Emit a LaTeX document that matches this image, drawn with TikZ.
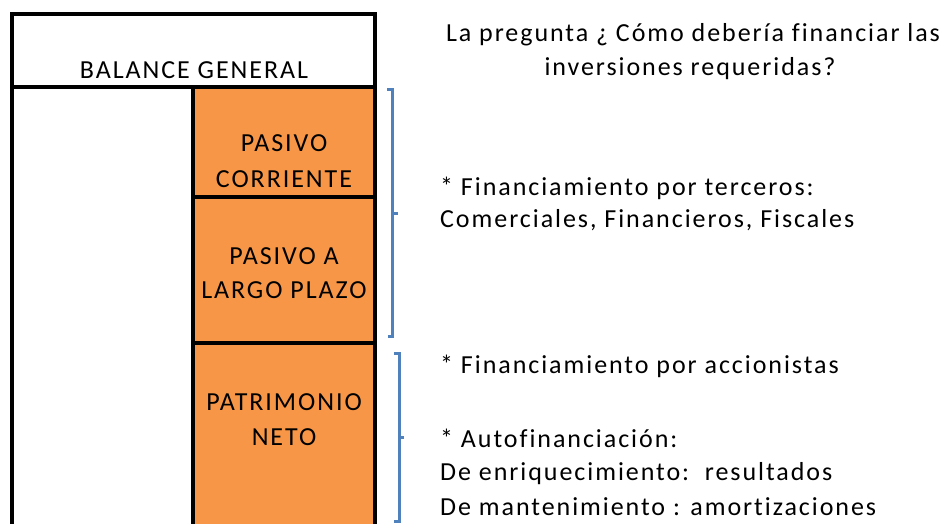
\documentclass[tikz,border=0pt]{standalone}
\usepackage{fontspec}
\setmainfont{Carlito}[LetterSpace=7.5,Ligatures=NoCommon]
\definecolor{boxorange}{HTML}{F79646}
\definecolor{bracketblue}{HTML}{4F81BD}
\begin{document}
\begin{tikzpicture}[x=1pt,y=-1pt,
  txt/.style={inner sep=0pt,font=\fontsize{26}{34}\selectfont},
  frame/.style={draw=black,line width=4pt},
  orangebox/.style={frame,fill=boxorange},
  brace/.style={draw=bracketblue,line width=3pt}]
\useasboundingbox (0,0) rectangle (944,523);
% frame
\draw[frame] (12,14) rectangle (375,87);
\draw[frame] (12,87) -- (12,540);
\draw[orangebox] (193,87) rectangle (375,197);
\draw[orangebox] (193,197) rectangle (375,343);
\draw[orangebox] (193,343) rectangle (375,540);
% box texts
\node[txt,anchor=base] (bal) at (194,78) {BALANCE GENERAL};
\node[txt,anchor=base] (pc1) at (284,151) {PASIVO};
\node[txt,anchor=base] (pc2) at (284,187) {CORRIENTE};
\node[txt,anchor=base] (pl1) at (284,264) {PASIVO A};
\node[txt,anchor=base] (pl2) at (284,298) {LARGO PLAZO};
\node[txt,anchor=base] (pn1) at (284,410) {PATRIMONIO};
\node[txt,anchor=base] (pn2) at (284,445) {NETO};
% braces
\draw[brace] (387,89) -- (392.5,89) -- (392.5,336) -- (388,336);
\draw[brace] (392.5,213) -- (398,213);
\draw[brace] (394,353) -- (399,353) -- (399,521) -- (394,521);
\draw[brace] (399,437) -- (404,437);
% right texts
\node[txt,anchor=base] (q1) at (693,41) {La pregunta ¿ Cómo debería financiar las};
\node[txt,anchor=base] (q2) at (690,75) {inversiones requeridas?};
\node[txt,anchor=base west] (t1) at (440,195) {* Financiamiento por terceros:};
\node[txt,anchor=base west] (t2) at (440,227) {Comerciales, Financieros, Fiscales};
\node[txt,anchor=base west] (a1) at (440,373) {* Financiamiento por accionistas};
\node[txt,anchor=base west] (a2) at (440,447) {* Autofinanciación:};
\node[txt,anchor=base west] (a3) at (440,480) {De enriquecimiento:\ \ resultados};
\node[txt,anchor=base west] (a4) at (440,515) {De mantenimiento : amortizaciones};
\end{tikzpicture}
\end{document}
